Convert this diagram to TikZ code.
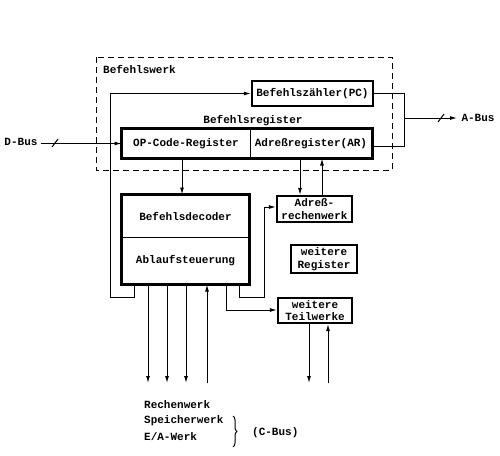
\documentclass[tikz,border=0pt]{standalone}
\usepackage{fontspec}
\setmainfont{Liberation Mono}[UprightFont=* Bold]
\usetikzlibrary{arrows.meta,decorations.pathreplacing}

\tikzset{
  unitbox/.style={draw,line width=2.2pt,inner sep=0pt,align=center},
  plainbox/.style={inner sep=0pt,align=center},
  flow/.style={-{Latex[length=7pt,width=4pt]}},
}

\begin{document}
\fontsize{11}{12.5}\selectfont
\begin{tikzpicture}[x=1pt,y=-1pt,line width=1pt]
\useasboundingbox (0,0) rectangle (500,455);
% Befehlswerk
\draw[dashed,dash pattern=on 6pt off 4pt] (96,57) rectangle (392,170);
\node[anchor=west] (bw) at (99,69) {Befehlswerk};
\node[unitbox,minimum width=121pt,minimum height=25pt] (pc) at (312.5,93.5) {Befehlszähler(PC)};
\node (brlabel) at (253,121) {Befehlsregister};
\node[plainbox,minimum width=128pt,minimum height=29pt] (opreg) at (186,143.5) {OP-Code-Register};
\node[plainbox,minimum width=122pt,minimum height=29pt] (arreg) at (311,143.5) {Adreßregister(AR)};
\draw[line width=2.2pt] (opreg.north west) rectangle (arreg.south east);
\draw (opreg.north east) -- (opreg.south east);

% Steuerwerk
\node[plainbox,minimum width=127pt,minimum height=42pt] (dec) at (185.5,216) {Befehlsdecoder};
\node[plainbox,minimum width=127pt,minimum height=47pt] (abl) at (185.5,260.5) {Ablaufsteuerung};
\draw[line width=2.2pt] (dec.north west) rectangle (abl.south east);
\draw (dec.south west) -- (dec.south east);

\node[unitbox,minimum width=75pt,minimum height=26pt] (arw) at (314.5,209) {Adreß-\\rechenwerk};
\node[unitbox,minimum width=66pt,minimum height=28pt] (wreg) at (324,259) {weitere\\Register};
\node[unitbox,minimum width=74pt,minimum height=25pt] (teil) at (315,310.5) {weitere\\Teilwerke};

% Busse
\node[anchor=west,inner sep=0pt] (dbus) at (4,142) {D-Bus};
\draw[flow] (dbus.east) ++(3pt,1.5) -- (opreg.west |- 0,143.5);
\draw (52,147) -- (58,139);
\node[anchor=west,inner sep=0pt] (abus) at (461,118) {A-Bus};
\coordinate (knot) at (404,118);
\draw (pc.east) -- (pc.east -| knot) -- (knot |- 0,146) -- (arreg.east |- 0,146);
\draw[flow] (knot) -- ([xshift=-4pt]abus.west);
\draw (438,122) -- (444,114);

% Verbindungen
\draw[flow] (abl.south -| 134,0) -- (134,297) -- (110,297) -- (110,93.5) -- (pc.west);
\draw[flow] (opreg.south -| 182,0) -- (dec.north -| 182,0);
\draw[flow] (arreg.south -| 300,0) -- (arw.north -| 300,0);
\draw[flow] (arw.north -| 322,0) -- (arreg.south -| 322,0);
\draw[flow] (abl.south -| 239,0) -- (239,297) -- (264,297) -- (264,207) -- (arw.west |- 0,207);
\draw[flow] (abl.south -| 226,0) -- (226,310) -- (teil.west |- 0,310);
\foreach \xx in {148,167,186}
  \draw[flow] (abl.south -| \xx,0) -- (\xx,383);
\draw[flow] (207,383) -- (abl.south -| 207,0);
\draw[flow] (teil.south -| 309,0) -- (309,383);
\draw[flow] (328,383) -- (teil.south -| 328,0);

% C-Bus
\node[anchor=west] (rw) at (140,405) {Rechenwerk};
\node[anchor=west] (sw) at (140,421) {Speicherwerk};
\node[anchor=west] (ea) at (140,437) {E/A-Werk};
\draw[decorate,decoration={brace,amplitude=4pt}] (233,416) -- (233,447);
\node[anchor=west] (cbus) at (248,433) {(C-Bus)};
\end{tikzpicture}
\end{document}
